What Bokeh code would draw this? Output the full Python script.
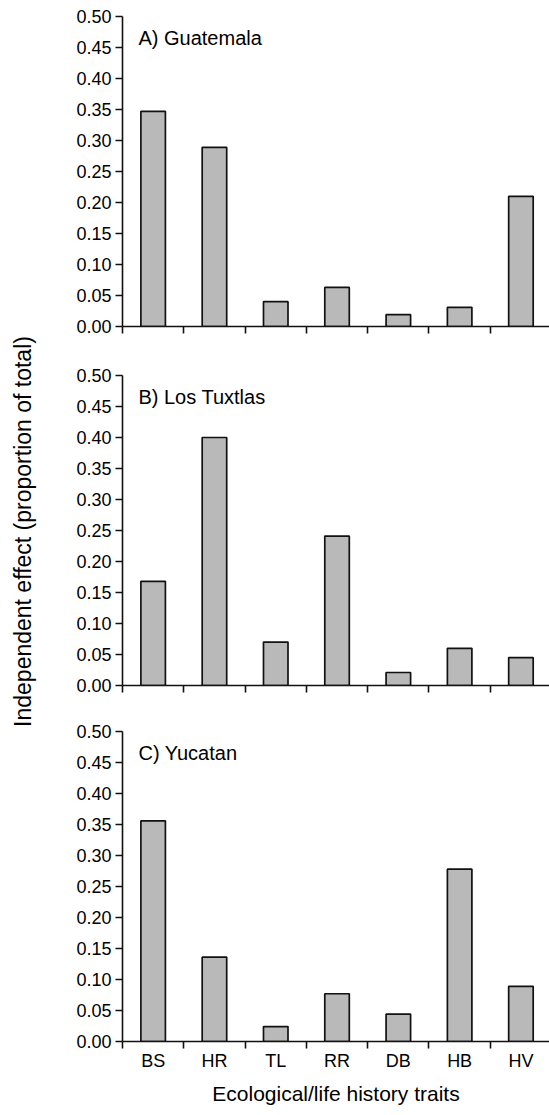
import math
from bokeh.plotting import figure
from bokeh.models import Range1d, FixedTicker, Label
from bokeh.layouts import column, row
from bokeh.embed import file_html
from bokeh.resources import INLINE

# ---- data ----
traits = ["BS", "HR", "TL", "RR", "DB", "HB", "HV"]
guatemala = [0.347, 0.289, 0.040, 0.063, 0.019, 0.031, 0.210]
los_tuxtlas = [0.168, 0.400, 0.070, 0.241, 0.021, 0.060, 0.045]
yucatan = [0.356, 0.136, 0.024, 0.077, 0.044, 0.278, 0.089]
panel_titles = ["A) Guatemala", "B) Los Tuxtlas", "C) Yucatan"]
y_ticks = [0.00, 0.05, 0.10, 0.15, 0.20, 0.25, 0.30, 0.35, 0.40, 0.45, 0.50]
y_tick_labels = ["0.00", "0.05", "0.10", "0.15", "0.20", "0.25", "0.30",
                 "0.35", "0.40", "0.45", "0.50"]
y_label = "Independent effect (proportion of total)"
x_label = "Ecological/life history traits"

FONT = "Liberation Sans"
INK = "#111111"
LABEL_W = 52
PANEL_W = 497
HEIGHTS = [367, 356, 384]
TOPS = [16, 8, 8]
BOTTOMS = [41, 38, 66]


def make_panel(values, title, height, top_border, bottom_border, show_xlabels, xlabel=None):
    n = len(traits)
    xs = [i + 0.5 for i in range(n)]
    p = figure(width=PANEL_W, height=height,
               x_range=Range1d(0, 6.966), y_range=Range1d(0, 0.5),
               output_backend="svg", toolbar_location=None,
               min_border_left=70, min_border_right=0,
               min_border_top=top_border, min_border_bottom=bottom_border,
               outline_line_color=None,
               background_fill_color="white", border_fill_color="white")
    p.grid.visible = False
    p.vbar(x=xs, top=values, bottom=0, width=0.4,
           fill_color="#b9b9b9", line_color=INK, line_width=1.7)

    ya = p.yaxis[0]
    ya.ticker = FixedTicker(ticks=y_ticks)
    ya.major_label_overrides = {t: l for t, l in zip(y_ticks, y_tick_labels)}
    ya.axis_line_color = INK
    ya.axis_line_width = 1.6
    ya.major_tick_line_color = INK
    ya.major_tick_line_width = 1.6
    ya.major_tick_in = 0
    ya.major_tick_out = 7
    ya.minor_tick_line_color = None
    ya.major_label_standoff = 4
    ya.major_label_text_font = FONT
    ya.major_label_text_font_size = "18px"
    ya.major_label_text_color = "black"

    xa = p.xaxis[0]
    if show_xlabels:
        xa.ticker = FixedTicker(ticks=xs, minor_ticks=list(range(n + 1)))
        xa.major_label_overrides = {x: t for x, t in zip(xs, traits)}
    else:
        xa.ticker = FixedTicker(ticks=[], minor_ticks=list(range(n + 1)))
    xa.axis_line_color = INK
    xa.axis_line_width = 1.6
    xa.major_tick_line_color = None
    xa.major_tick_in = 0
    xa.major_tick_out = 7
    xa.minor_tick_line_color = INK
    xa.minor_tick_line_width = 1.6
    xa.minor_tick_in = 0
    xa.minor_tick_out = 7
    xa.major_label_standoff = 2
    xa.major_label_text_font = FONT
    xa.major_label_text_font_size = "18px"
    xa.major_label_text_color = "black"
    if xlabel:
        xa.axis_label = xlabel
        xa.axis_label_text_font = FONT
        xa.axis_label_text_font_size = "21px"
        xa.axis_label_text_font_style = "normal"
        xa.axis_label_text_color = "black"
        xa.axis_label_standoff = 8

    p.add_layout(Label(x=0.26, y=0.466, text=title, text_font=FONT,
                       text_font_size="20px", text_color="black",
                       text_baseline="alphabetic", text_align="left"))
    return p


pA = make_panel(guatemala, panel_titles[0], HEIGHTS[0], TOPS[0], BOTTOMS[0], False)
pB = make_panel(los_tuxtlas, panel_titles[1], HEIGHTS[1], TOPS[1], BOTTOMS[1], False)
pC = make_panel(yucatan, panel_titles[2], HEIGHTS[2], TOPS[2], BOTTOMS[2], True, xlabel=x_label)

total_h = sum(HEIGHTS)
lab = figure(width=LABEL_W, height=total_h,
             x_range=Range1d(0, LABEL_W), y_range=Range1d(0, total_h),
             output_backend="svg", toolbar_location=None,
             x_axis_location=None, y_axis_location=None,
             min_border=0, outline_line_color=None,
             background_fill_color="white", border_fill_color="white")
lab.grid.visible = False
lab.add_layout(Label(x=22, y=total_h - 531, text=y_label, text_font=FONT,
                     text_font_size="23px", text_color="black",
                     angle=math.pi / 2, text_align="center",
                     text_baseline="middle"))

layout = row(lab, column(pA, pB, pC, spacing=0), spacing=0)
open("out.html", "w").write(file_html(layout, INLINE))
